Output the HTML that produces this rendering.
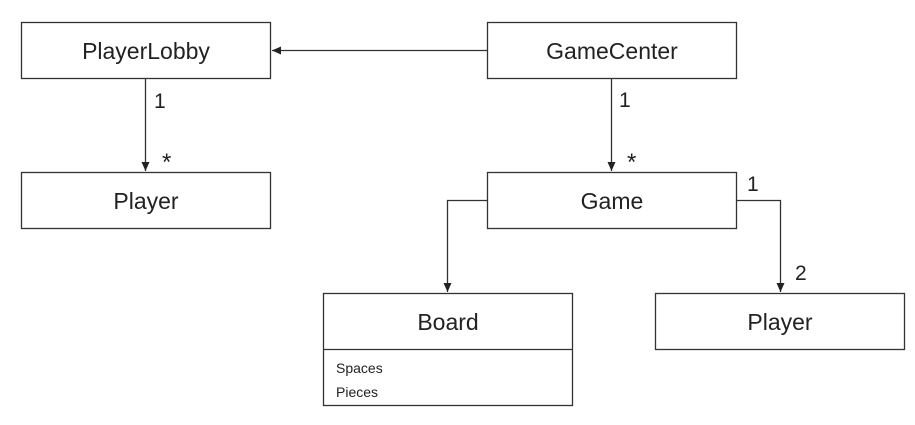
<!DOCTYPE html>
<html><head><style>
body{margin:0;background:#fff;}
svg text{font-family:"Liberation Sans",sans-serif;fill:#222;}
</style></head><body>
<svg width="915" height="420" xmlns="http://www.w3.org/2000/svg">
<defs><marker id="a" markerWidth="10" markerHeight="10" refX="9" refY="5" orient="auto" markerUnits="userSpaceOnUse"><path d="M0,1 L9,5 L0,9 z" fill="#222"/></marker></defs>
<g fill="none" stroke="#333" stroke-width="1.3">
<rect x="21.5" y="22.5" width="249" height="56"/>
<rect x="21.5" y="172.5" width="249" height="56"/>
<rect x="487.5" y="22.5" width="249" height="56"/>
<rect x="487.5" y="172.5" width="249" height="56"/>
<rect x="323.5" y="293.5" width="249" height="112"/>
<line x1="323.5" y1="349.5" x2="572.5" y2="349.5"/>
<rect x="655.5" y="293.5" width="249" height="56"/>
<line x1="487" y1="50.5" x2="272" y2="50.5" marker-end="url(#a)"/>
<line x1="145.5" y1="79" x2="145.5" y2="171" marker-end="url(#a)"/>
<line x1="611.5" y1="79" x2="611.5" y2="171" marker-end="url(#a)"/>
<polyline points="487,200.5 447.5,200.5 447.5,292" marker-end="url(#a)"/>
<polyline points="737,200.5 780.5,200.5 780.5,292" marker-end="url(#a)"/>
</g>
<g font-size="23" text-anchor="middle">
<text x="146" y="59">PlayerLobby</text>
<text x="146" y="209">Player</text>
<text x="612" y="59">GameCenter</text>
<text x="612" y="209">Game</text>
<text x="448" y="330">Board</text>
<text x="780" y="330">Player</text>
</g>
<g font-size="21">
<text x="154" y="108">1</text>
<text x="619" y="107">1</text>
<text x="747" y="191">1</text>
<text x="795" y="280">2</text>
</g>
<g font-size="24">
<text x="162" y="170">*</text>
<text x="627" y="170">*</text>
</g>
<g font-size="14">
<text x="336" y="373">Spaces</text>
<text x="336" y="397">Pieces</text>
</g>
</svg>
</body></html>
